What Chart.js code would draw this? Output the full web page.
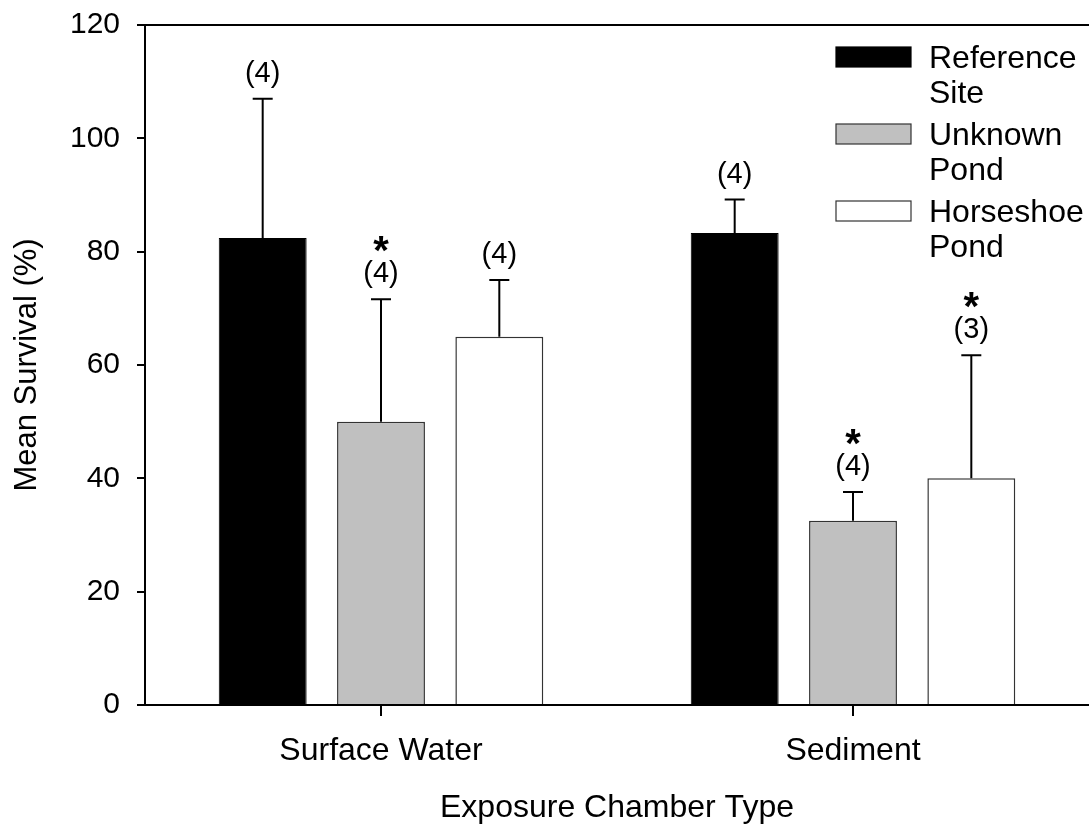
<!DOCTYPE html>
<html>
<head>
<meta charset="utf-8">
<script src="https://cdn.jsdelivr.net/npm/chart.js@4.4.1/dist/chart.umd.min.js"></script>
<style>
  html, body { margin: 0; padding: 0; background: #fff; overflow: hidden; }
  #wrap { width: 1089px; height: 827px; }
</style>
</head>
<body>
<div id="wrap"><canvas id="survivalChart" width="1089" height="827"></canvas></div>
<script>
const categories = ["Surface Water", "Sediment"];
const seriesNames = [["Reference", "Site"], ["Unknown", "Pond"], ["Horseshoe", "Pond"]];

const referenceSite = [82.4, 83.3];
const unknownPond = [50.0, 32.5];
const horseshoePond = [65.0, 40.0];

// upper error bar length (one-sided)
const referenceErr = [24.6, 5.9];
const unknownErr = [21.6, 5.1];
const horseshoeErr = [10.0, 21.7];

// sample sizes and significance marks
const referenceN = ["(4)", "(4)"];
const unknownN = ["(4)", "(4)"];
const horseshoeN = ["(4)", "(3)"];
const referenceStar = [false, false];
const unknownStar = [true, true];
const horseshoeStar = [false, true];

const yTicks = [0, 20, 40, 60, 80, 100, 120];

const FONT = '"Liberation Sans", Arial, sans-serif';
Chart.defaults.font.family = FONT;
Chart.defaults.color = "#000";

const extras = [
  { err: referenceErr, n: referenceN, star: referenceStar },
  { err: unknownErr, n: unknownN, star: unknownStar },
  { err: horseshoeErr, n: horseshoeN, star: horseshoeStar },
];

const errorBars = {
  id: "errorBars",
  afterDatasetsDraw(chart) {
    const { ctx } = chart;
    const y = chart.scales.y;
    ctx.save();
    chart.data.datasets.forEach((ds, i) => {
      const meta = chart.getDatasetMeta(i);
      const ex = extras[i];
      meta.data.forEach((bar, j) => {
        const top = y.getPixelForValue(ds.data[j] + ex.err[j]);
        ctx.strokeStyle = "#000";
        ctx.lineWidth = 2;
        ctx.beginPath();
        ctx.moveTo(bar.x, bar.y);
        ctx.lineTo(bar.x, top);
        ctx.moveTo(bar.x - 10, top);
        ctx.lineTo(bar.x + 10, top);
        ctx.stroke();

        ctx.fillStyle = "#000";
        ctx.textAlign = "center";
        ctx.textBaseline = "alphabetic";
        ctx.font = "29px " + FONT;
        ctx.fillText(ex.n[j], bar.x, top - 24 + 7);
        if (ex.star[j]) {
          ctx.font = "bold 40px " + FONT;
          ctx.fillText("*", bar.x, top - 58 + 23);
        }
      });
    });
    ctx.restore();
  },
};

const frameAndLegend = {
  id: "frameAndLegend",
  afterDraw(chart) {
    const { ctx, chartArea } = chart;
    ctx.save();
    // top frame line
    ctx.strokeStyle = "#000";
    ctx.lineWidth = 2;
    ctx.beginPath();
    ctx.moveTo(chartArea.left, chartArea.top);
    ctx.lineTo(chartArea.right, chartArea.top);
    ctx.stroke();

    // legend
    ctx.font = "32px " + FONT;
    ctx.textAlign = "left";
    ctx.textBaseline = "middle";
    chart.data.datasets.forEach((ds, i) => {
      const cy = 57 + i * 77;
      ctx.fillStyle = ds.backgroundColor;
      ctx.fillRect(836, cy - 10, 75, 20);
      ctx.strokeStyle = ds.borderColor;
      ctx.lineWidth = 1.2;
      ctx.strokeRect(836, cy - 10, 75, 20);
      ctx.fillStyle = "#000";
      ds.label.forEach((line, k) => {
        ctx.fillText(line, 929, cy + 2 + k * 35);
      });
    });
    ctx.restore();
  },
};

new Chart(document.getElementById("survivalChart"), {
  type: "bar",
  data: {
    labels: categories,
    datasets: [
      {
        label: seriesNames[0],
        data: referenceSite,
        backgroundColor: "#000000",
        borderColor: "#000000",
        borderWidth: 1,
      },
      {
        label: seriesNames[1],
        data: unknownPond,
        backgroundColor: "#c0c0c0",
        borderColor: "#333333",
        borderWidth: 1.5,
      },
      {
        label: seriesNames[2],
        data: horseshoePond,
        backgroundColor: "#ffffff",
        borderColor: "#333333",
        borderWidth: 1.5,
      },
    ],
  },
  options: {
    responsive: false,
    animation: false,
    categoryPercentage: 0.752,
    barPercentage: 0.743,
    layout: { padding: { top: 25, right: 0, left: 0, bottom: 0 } },
    plugins: {
      legend: { display: false },
      tooltip: { enabled: false },
    },
    scales: {
      x: {
        offset: true,
        grid: {
          offset: false,
          drawOnChartArea: false,
          drawTicks: true,
          tickLength: 11,
          color: "#000",
          lineWidth: 2,
        },
        border: { color: "#000", width: 2 },
        ticks: { font: { size: 32 }, padding: 16, color: "#000" },
        title: {
          display: true,
          text: "Exposure Chamber Type",
          font: { size: 32 },
          padding: { top: 0, bottom: 0 },
          color: "#000",
        },
        afterFit(scale) {
          scale.height = 122;
          scale.paddingLeft = 0;
          scale.paddingRight = 0;
        },
      },
      y: {
        min: 0,
        max: 120,
        afterBuildTicks(scale) {
          scale.ticks = yTicks.map((v) => ({ value: v }));
        },
        grid: {
          drawOnChartArea: false,
          drawTicks: true,
          tickLength: 8,
          color: "#000",
          lineWidth: 2,
        },
        border: { color: "#000", width: 2 },
        ticks: { font: { size: 30, lineHeight: 1.2 }, padding: 17, color: "#000" },
        title: {
          display: true,
          text: "Mean Survival (%)",
          font: { size: 31 },
          padding: { top: 9, bottom: 0 },
          color: "#000",
        },
        afterFit(scale) {
          scale.width = 145;
          scale.paddingTop = 0;
          scale.paddingBottom = 0;
        },
      },
    },
  },
  plugins: [errorBars, frameAndLegend],
});
</script>
</body>
</html>
